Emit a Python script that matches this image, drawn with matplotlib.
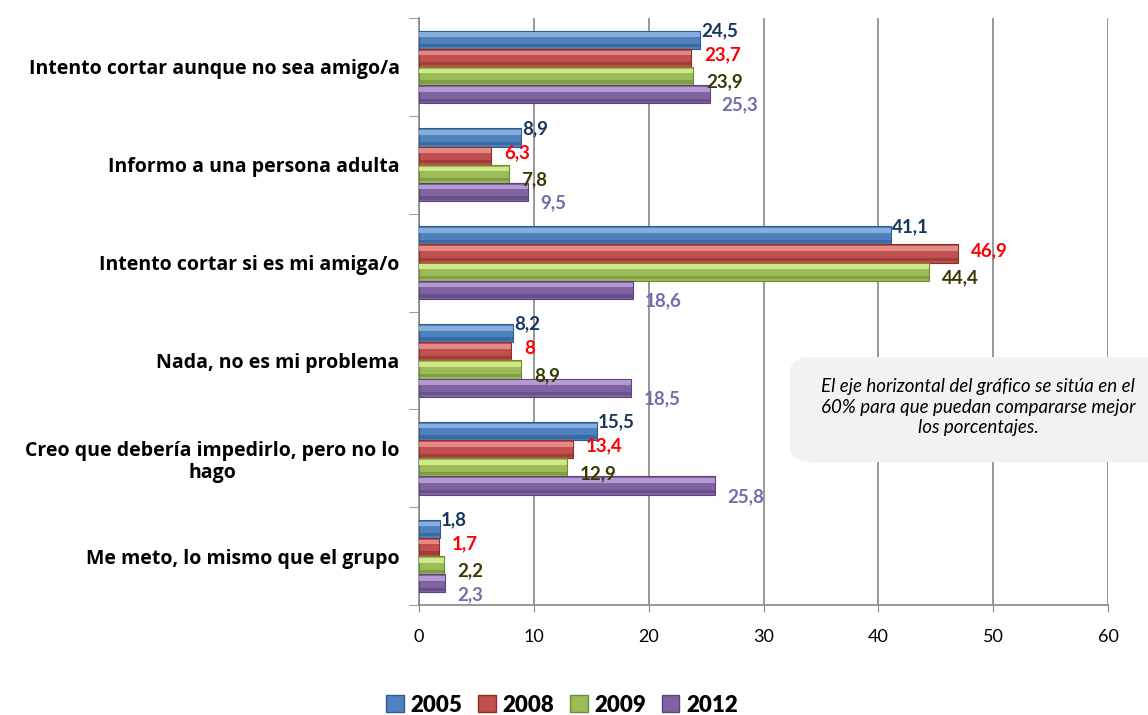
import matplotlib
matplotlib.use("Agg")
import matplotlib.pyplot as plt
from matplotlib.patches import FancyBboxPatch, Rectangle
import numpy as np

categories = [
    "Intento cortar aunque no sea amigo/a",
    "Informo a una persona adulta",
    "Intento cortar si es mi amiga/o",
    "Nada, no es mi problema",
    "Creo que debería impedirlo, pero no lo\nhago",
    "Me meto, lo mismo que el grupo",
]
years = ["2005", "2008", "2009", "2012"]
v2005 = [24.5, 8.9, 41.1, 8.2, 15.5, 1.8]
v2008 = [23.7, 6.3, 46.9, 8, 13.4, 1.7]
v2009 = [23.9, 7.8, 44.4, 8.9, 12.9, 2.2]
v2012 = [25.3, 9.5, 18.6, 18.5, 25.8, 2.3]
series = [v2005, v2008, v2009, v2012]
labels = [["24,5", "8,9", "41,1", "8,2", "15,5", "1,8"],
          ["23,7", "6,3", "46,9", "8", "13,4", "1,7"],
          ["23,9", "7,8", "44,4", "8,9", "12,9", "2,2"],
          ["25,3", "9,5", "18,6", "18,5", "25,8", "2,3"]]

bar_colors = ["#4F81BD", "#C0504D", "#9BBB59", "#8064A2"]
light_colors = ["#8DB3E2", "#E8908D", "#D7EE8E", "#B9A2D6"]
dark_colors = ["#2E5C8F", "#8E2F2C", "#6E8B32", "#5B437D"]
label_colors = ["#17375E", "#FF0000", "#3A3A00", "#7070A8"]
label_offsets = [(1, 9), (13, 3), (13, -6), (12, -11)]

fig = plt.figure(figsize=(11.48, 7.15), dpi=100)
ax = fig.add_axes([419/1148, 1-605/715, (1108-419)/1148, (605-18)/715])

n = len(categories)
bh = 0.186
for j, vals in enumerate(series):
    ys = np.arange(n) + (j - 1.5) * bh
    ax.barh(ys, vals, height=bh, color=bar_colors[j], edgecolor=dark_colors[j],
            linewidth=0.8, zorder=3)
    # bevel highlight (top) and shade (bottom)
    ax.barh(ys - bh * 0.27, vals, height=bh * 0.26, color=light_colors[j],
            edgecolor="none", zorder=4, alpha=0.9)
    ax.barh(ys + bh * 0.33, vals, height=bh * 0.18, color=dark_colors[j],
            edgecolor="none", zorder=4, alpha=0.6)
    for i, (v, y) in enumerate(zip(vals, ys)):
        ax.annotate(labels[j][i], (v, y), xytext=label_offsets[j],
                    textcoords="offset pixels", ha="left", va="center",
                    fontsize=13.5, fontweight="bold", color=label_colors[j],
                    family="Lato", zorder=6)

ax.set_xlim(0, 60)
ax.set_ylim(n - 0.5, -0.5)
ax.set_xticks(np.arange(0, 61, 10))
ax.tick_params(axis="x", labelsize=13, length=5, color="#868686", pad=12)
for t in ax.get_xticklabels():
    t.set_family("Lato")
ax.set_yticks(np.arange(n))
ax.set_yticklabels(categories, fontsize=14, fontweight="bold", family="Open Sans",
                   multialignment="center", linespacing=1.15)
ax.tick_params(axis="y", which="major", length=0, pad=14)
ax.set_yticks(np.arange(-0.5, n, 1), minor=True)
ax.tick_params(axis="y", which="minor", length=7, color="#868686")
ax.grid(axis="x", color="#868686", linewidth=1.2, zorder=0)
for s in ["top", "right"]:
    ax.spines[s].set_visible(False)
ax.spines["left"].set_color("#868686")
ax.spines["bottom"].set_color("#868686")
ax.spines["left"].set_linewidth(1.2)
ax.spines["bottom"].set_linewidth(1.2)

# note box
box = FancyBboxPatch((790/1148, 1-462/715), 380/1148, 105/715,
                     boxstyle="round,pad=0,rounding_size=0.02",
                     transform=fig.transFigure, facecolor="#F2F2F2",
                     edgecolor="none", zorder=5)
fig.patches.append(box)
fig.text(978/1148, 1-407/715,
         "El eje horizontal del gráfico se sitúa en el\n60% para que puedan compararse mejor\nlos porcentajes.",
         ha="center", va="center", fontsize=13.5, style="italic", family="Lato",
         linespacing=1.25, zorder=6)

# legend
handles = [Rectangle((0, 0), 1, 1, facecolor=bar_colors[k], edgecolor=dark_colors[k])
           for k in range(4)]
leg = fig.legend(handles, years, loc="center", bbox_to_anchor=(562/1148, 1-705/715),
                 ncol=4, frameon=False, prop={"family": "Lato", "weight": "heavy", "size": 16},
                 handlelength=0.8, handleheight=0.8, handletextpad=0.3, columnspacing=0.7)

fig.savefig("out.png", dpi=100)
